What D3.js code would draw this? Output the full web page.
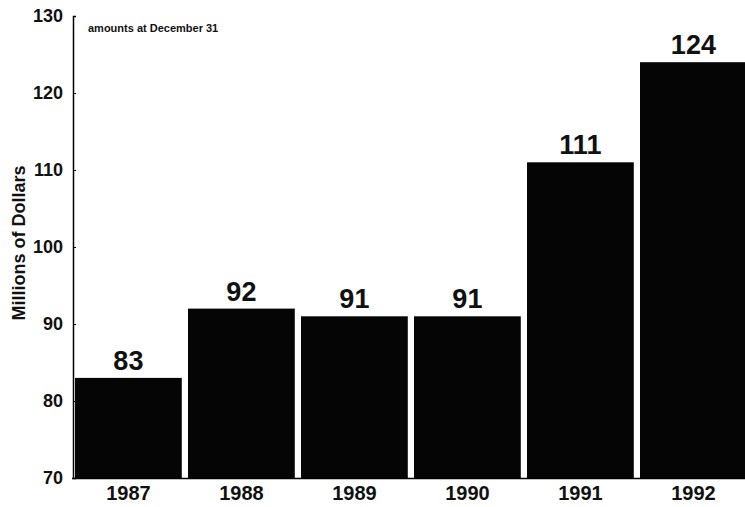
<!DOCTYPE html>
<html><head><meta charset="utf-8">
<script src="https://cdn.jsdelivr.net/npm/d3@7"></script>
<style>body{margin:0;background:#fff}text{font-family:"Liberation Sans",Arial,sans-serif;font-weight:bold}</style>
</head><body>
<script>
const years = ["1987","1988","1989","1990","1991","1992"];
const values = [83, 92, 91, 91, 111, 124];
const yTicks = [70, 80, 90, 100, 110, 120, 130];

const W = 745, H = 507;
const svg = d3.select("body").append("svg").attr("width", W).attr("height", H);
const x = d3.scaleBand().domain(years).range([75, 75 + 113 * (6 - 0.055)]).paddingInner(0.055).paddingOuter(0);
const y = d3.scaleLinear().domain([70, 130]).range([478, 16]);

svg.append("g").selectAll("rect").data(values).join("rect")
  .attr("x", (d, i) => x(years[i])).attr("width", x.bandwidth())
  .attr("y", d => y(d)).attr("height", d => y(70) - y(d)).attr("fill", "#050505");

const ax = svg.append("g").attr("transform", "translate(73,0)")
  .call(d3.axisLeft(y).tickValues(yTicks).tickSize(-3).tickPadding(10));
ax.select(".domain").attr("stroke-width", 1.5);
ax.selectAll("text").attr("font-size", 18).attr("fill", "#111");

svg.append("line").attr("x1", 72).attr("x2", W).attr("y1", 478.5).attr("y2", 478.5).attr("stroke", "#000").attr("stroke-width", 1.5);

svg.append("g").selectAll("text").data(years).join("text")
  .attr("x", d => x(d) + x.bandwidth() / 2).attr("y", 500).attr("text-anchor", "middle")
  .attr("font-size", 20).attr("fill", "#111").text(d => d);

svg.append("g").selectAll("text").data(values).join("text")
  .attr("x", (d, i) => x(years[i]) + x.bandwidth() / 2).attr("y", d => y(d) - 8).attr("text-anchor", "middle")
  .attr("font-size", 27).attr("fill", "#111").text(d => d);

svg.append("text").attr("transform", "translate(25,243) rotate(-90)").attr("text-anchor", "middle")
  .attr("font-size", 18).attr("fill", "#111").text("Millions of Dollars");

svg.append("text").attr("x", 88).attr("y", 32).attr("font-size", 11).attr("fill", "#111").text("amounts at December 31");
</script>
</body></html>
